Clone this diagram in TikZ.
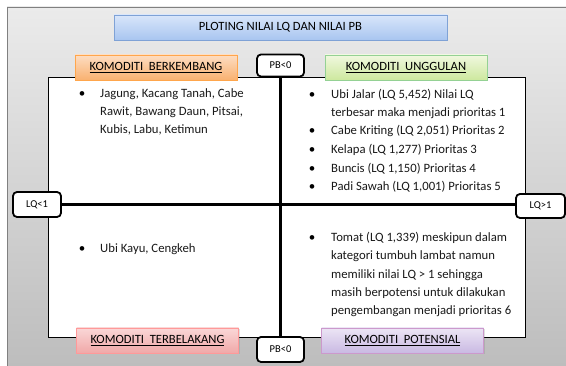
\documentclass[tikz,border=0pt]{standalone}
\usepackage{fontspec}
\setmainfont{Carlito}
\usetikzlibrary{shadows}

\definecolor{bingkaiAtas}{HTML}{EBEBEB}
\definecolor{bingkaiBawah}{HTML}{BDBDBD}
\definecolor{biruAtas}{HTML}{D9E6FA}
\definecolor{biruBawah}{HTML}{A8C5F0}
\definecolor{biruGaris}{HTML}{7FA2D6}
\definecolor{oranyeAtas}{HTML}{FDDDC2}
\definecolor{oranyeBawah}{HTML}{F9B170}
\definecolor{hijauAtas}{HTML}{F0F8DF}
\definecolor{hijauBawah}{HTML}{CDE89E}
\definecolor{merahAtas}{HTML}{FAD7D7}
\definecolor{merahBawah}{HTML}{F0A8A8}
\definecolor{unguAtas}{HTML}{ECE5F5}
\definecolor{unguBawah}{HTML}{C9B9E2}

\begin{document}
\begin{tikzpicture}[x=1pt,y=-1pt,
    kategori/.style={minimum width=162pt, minimum height=25pt, inner sep=0pt,
        font=\fontsize{12.6}{14}\selectfont,
        drop shadow={opacity=0.25, shadow xshift=1pt, shadow yshift=-1.5pt}},
    batas/.style={draw=black, line width=1.8pt, rounded corners=4pt, fill=white,
        minimum width=47pt, minimum height=22pt, inner sep=0pt, font=\fontsize{10.5}{12}\selectfont},
    isi/.style={anchor=north west, align=left, inner sep=0pt, text=black!90, yshift=-1.5pt,
        font=\fontsize{12.7}{18.3}\selectfont},
    poin/.style={anchor=base, inner sep=0pt, yshift=-1.5pt, font=\fontsize{13}{14}\selectfont}
]
    \useasboundingbox (0,0) rectangle (566,366);
    % latar abu-abu
    \shade[top color=bingkaiAtas, bottom color=bingkaiBawah] (7,7) rectangle (566,366);
    \draw[black!50, line width=1.5pt] (7.5,366) -- (7.5,7.5) -- (566,7.5);

    % kotak putih
    \draw[fill=white, line width=0.8pt] (48,77) rectangle (525,337);

    % judul
    \node[draw=biruGaris, top color=biruAtas, bottom color=biruBawah, minimum width=333pt,
        minimum height=25pt, inner sep=0pt, font=\fontsize{12.6}{14}\selectfont,
        drop shadow={opacity=0.25, shadow xshift=1pt, shadow yshift=-1.5pt}]
        (judul) at (280.5,27.5) {PLOTING NILAI LQ DAN NILAI PB};

    % batas PB dan LQ
    \node[batas] (pbAtas) at (280.5,65.5) {PB<0};
    \node[batas, minimum height=25pt] (pbBawah) at (280.5,349.5) {PB<0};
    \node[batas, minimum width=48pt, minimum height=25pt] (lqKiri) at (37,204.5) {LQ<1};
    \node[batas, minimum width=49pt, minimum height=24pt] (lqKanan) at (540.5,206) {LQ>1};
    \draw[line width=2.2pt] (pbAtas.south) -- (pbBawah.north);
    \draw[line width=2.2pt] (lqKiri.east) -- (lqKiri.east -| lqKanan.west);

    % kategori komoditi
    \node[kategori, draw=orange!70!white, top color=oranyeAtas, bottom color=oranyeBawah]
        (berkembang) at (156,67.5) {\underline{KOMODITI\ \ BERKEMBANG}};
    \node[kategori, draw=green!40!gray!60, top color=hijauAtas, bottom color=hijauBawah]
        (unggulan) at (406,67.5) {\underline{KOMODITI\ \ UNGGULAN}};
    \node[kategori, draw=red!40!white, top color=merahAtas, bottom color=merahBawah]
        (terbelakang) at (157.5,340.5) {\underline{KOMODITI\ \ TERBELAKANG}};
    \node[kategori, draw=violet!40!white, top color=unguAtas, bottom color=unguBawah]
        (potensial) at (402.5,340.5) {\underline{KOMODITI\ \ POTENSIAL}};

    % isi kuadran kiri atas
    \node[poin] (p1) at (82,96.5) {\textbullet};
    \node[isi] (t1) at (100,86.5) {Jagung, Kacang Tanah, Cabe\\Rawit, Bawang Daun, Pitsai,\\Kubis, Labu, Ketimun};

    % isi kuadran kanan atas
    \node[poin] (p2) at (312,97.5) {\textbullet};
    \node[isi] (t2) at (331,87.5) {Ubi Jalar (LQ 5,452) Nilai LQ\\terbesar maka menjadi prioritas 1};
    \node[poin] (p3) at (312,133.5) {\textbullet};
    \node[isi] (t3) at (331,123.5) {Cabe Kriting (LQ 2,051) Prioritas 2};
    \node[poin] (p4) at (312,152.5) {\textbullet};
    \node[isi] (t4) at (331,142.5) {Kelapa (LQ 1,277) Prioritas 3};
    \node[poin] (p5) at (312,171.5) {\textbullet};
    \node[isi] (t5) at (331,161.5) {Buncis (LQ 1,150) Prioritas 4};
    \node[poin] (p6) at (312,189.5) {\textbullet};
    \node[isi] (t6) at (331,179.5) {Padi Sawah (LQ 1,001) Prioritas 5};

    % isi kuadran kiri bawah
    \node[poin] (p7) at (82,251.5) {\textbullet};
    \node[isi] (t7) at (100,241.5) {Ubi Kayu, Cengkeh};

    % isi kuadran kanan bawah
    \node[poin] (p8) at (312,240.5) {\textbullet};
    \node[isi] (t8) at (331,230.5) {Tomat (LQ 1,339) meskipun dalam\\kategori tumbuh lambat namun\\memiliki nilai LQ > 1 sehingga\\masih berpotensi untuk dilakukan\\pengembangan menjadi prioritas 6};
\end{tikzpicture}
\end{document}
